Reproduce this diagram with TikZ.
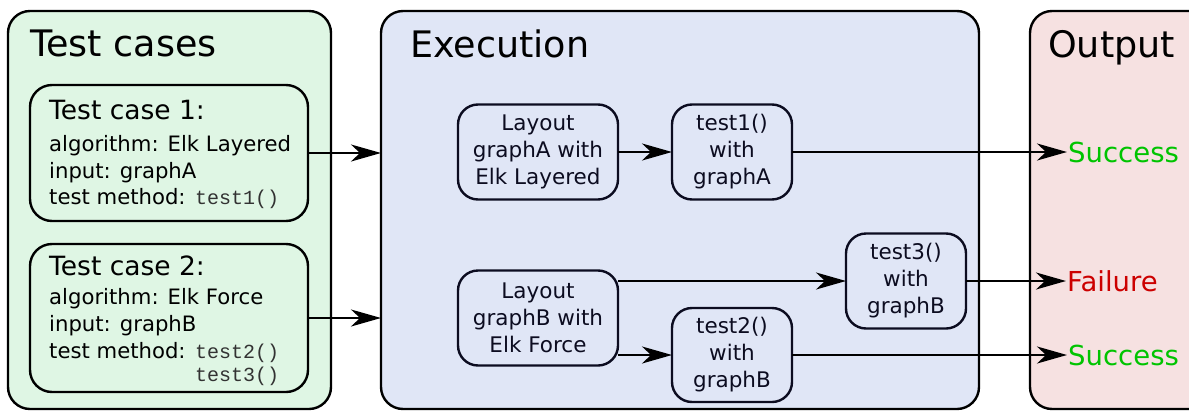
\documentclass[tikz,border=0pt]{standalone}
\usepackage{fontspec}
\setmainfont{DejaVu Sans}
\setmonofont{Liberation Mono}
\usetikzlibrary{arrows.meta}
\definecolor{casefill}{RGB}{223,246,228}
\definecolor{execfill}{RGB}{224,230,246}
\definecolor{outfill}{RGB}{246,225,225}
\definecolor{okgreen}{RGB}{0,196,0}
\definecolor{failred}{RGB}{204,0,0}
\definecolor{inkdark}{RGB}{12,12,32}
\definecolor{codegray}{RGB}{50,50,50}
\begin{document}
\begin{tikzpicture}[x=1pt,y=-1pt,
  panel/.style={draw=black, line width=2.4pt, rounded corners=22pt, outer sep=0pt, inner sep=0pt},
  casebox/.style={draw=black, line width=2.4pt, rounded corners=22pt, fill=casefill, outer sep=0pt, inner sep=0pt},
  stepbox/.style={draw=inkdark, line width=2.4pt, rounded corners=20pt, fill=execfill, align=center,
    text=inkdark, font=\fontsize{21.5}{27}\selectfont, inner sep=0pt, outer sep=0pt},
  title/.style={anchor=base west, inner sep=0pt, font=\fontsize{36.5}{40}\selectfont},
  head/.style={anchor=base west, inner sep=0pt, font=\fontsize{26.5}{30}\selectfont},
  info/.style={anchor=base west, inner sep=0pt, font=\fontsize{21.2}{26}\selectfont},
  code/.style={anchor=base west, inner sep=0pt, text=codegray, font=\fontsize{20}{26}\selectfont\ttfamily},
  result/.style={anchor=west, inner sep=1pt, font=\fontsize{27.5}{30}\selectfont},
  flow/.style={line width=2pt, -{Stealth[length=30pt,width=17pt,inset=9pt]}},
]
\useasboundingbox (0,0) rectangle (1189,410);

% the three columns
\node[panel, fill=casefill, anchor=north west, minimum width=323pt, minimum height=398pt] (cases) at (8,11) {};
\node[panel, fill=execfill, anchor=north west, minimum width=598pt, minimum height=398pt] (exec) at (381,11) {};
\node[panel, fill=outfill, anchor=north west, minimum width=190pt, minimum height=398pt] (out) at (1030,11) {};

\node[title] (casesT) at (30,56) {Test cases};
\node[title] (execT) at (410,57) {Execution};
\node[title] (outT) at (1048,57) {Output};

% test case descriptions
\node[casebox, anchor=north west, minimum width=278pt, minimum height=136pt] (tc1) at (30,85) {};
\node[head] (tc1h) at (49,119) {Test case 1:};
\node[info] (tc1a) at (49,151) {algorithm: Elk Layered};
\node[info] (tc1i) at (49,178) {input: graphA};
\node[info] (tc1m) at (49,204) {test method:};
\node[code] (tc1c) at ([xshift=9pt]tc1m.base east) {test1()};

\node[casebox, anchor=north west, minimum width=278pt, minimum height=148pt] (tc2) at (30,244) {};
\node[head] (tc2h) at (49,275) {Test case 2:};
\node[info] (tc2a) at (49,304) {algorithm: Elk Force};
\node[info] (tc2i) at (49,331) {input: graphB};
\node[info] (tc2m) at (49,358) {test method:};
\node[code] (tc2c) at ([xshift=9pt]tc2m.base east) {test2()};
\node[code] (tc3c) at ([yshift=-23pt]tc2c.base west) {test3()};

% execution steps
\node[stepbox, minimum width=160pt, minimum height=95pt] (layA) at (538,152) {Layout\\graphA with\\Elk Layered};
\node[stepbox, minimum width=120pt, minimum height=95pt] (t1) at (732,152) {test1()\\with\\graphA};
\node[stepbox, minimum width=160pt, minimum height=95pt] (layB) at (538,318) {Layout\\graphB with\\Elk Force};
\node[stepbox, minimum width=120pt, minimum height=94pt] (t2) at (732,355) {test2()\\with\\graphB};
\node[stepbox, minimum width=120pt, minimum height=95pt] (t3) at (906,281) {test3()\\with\\graphB};

% outcomes
\node[result, text=okgreen] (ok1) at (1067,152) {Success};
\node[result, text=failred] (fail) at (1066,281) {Failure};
\node[result, text=okgreen] (ok2) at (1067,355) {Success};

% connectors
\draw[flow] (tc1.east) -- (tc1.east -| exec.west);
\draw[flow] (tc2.east) -- (tc2.east -| exec.west);
\draw[flow] (layA) -- (t1);
\draw[flow] (t3.west -| layB.east) -- (t3.west);
\draw[flow] (t2.west -| layB.east) -- (t2.west);
\draw[flow] (t1.east) -- (ok1.west);
\draw[flow] (t3.east) -- (fail.west);
\draw[flow] (t2.east) -- (ok2.west);
\end{tikzpicture}
\end{document}
